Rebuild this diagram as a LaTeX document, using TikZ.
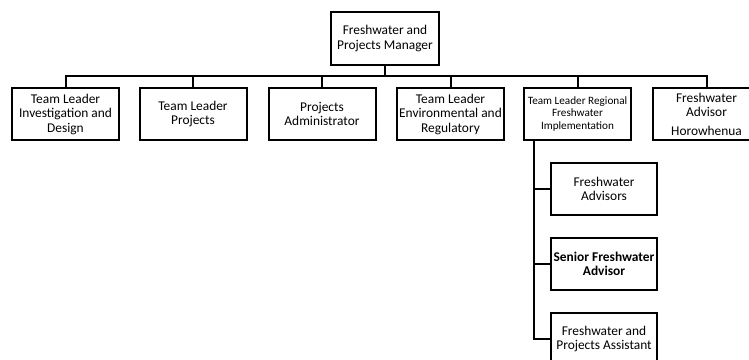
\documentclass[tikz,border=0pt]{standalone}
\usepackage{fontspec}
\setmainfont{Carlito}
\begin{document}
\begin{tikzpicture}[x=1pt,y=1pt,
  box/.style={draw, line width=2pt, minimum width=107pt, minimum height=52pt, inner sep=0pt, align=center, font=\fontsize{13.4}{14.5}\selectfont},
  smallbox/.style={box, font=\fontsize{11.2}{12.5}\selectfont},
  conn/.style={line width=2pt}]
\useasboundingbox (0,0) rectangle (749,-359);
\clip (0,0) rectangle (749,-359);
\node[box, minimum width=108pt, minimum height=53pt] (top) at (385,-38.5) {Freshwater and\\Projects Manager};
\node[box] (b1) at (65.5,-114) {Team Leader\\Investigation and\\Design};
\node[box] (b2) at (193,-114) {Team Leader\\Projects};
\node[box] (b3) at (322,-114) {Projects\\Administrator};
\node[box] (b4) at (450.5,-114) {Team Leader\\Environmental and\\Regulatory};
\node[smallbox] (b5) at (577.5,-114) {Team Leader Regional\\Freshwater\\Implementation};
\node[box] (b6) at (706.5,-114) {Freshwater\\Advisor\\[4pt]Horowhenua};
\node[box, minimum width=106pt] (sa) at (604,-189) {Freshwater\\Advisors};
\node[box, minimum width=106pt, font=\fontsize{13.4}{14.5}\selectfont\bfseries] (sb) at (604,-264) {Senior Freshwater\\Advisor};
\node[box, minimum width=106pt] (sc) at (604,-339) {Freshwater and\\Projects Assistant};
\coordinate (j) at (385,-76);
\draw[conn] (top.south) -- (j);
\foreach \n in {b1,b2,b3,b4,b5,b6} \draw[conn] (\n.north) |- (j);
\coordinate (v) at (534,-140);
\foreach \n in {sa,sb,sc} \draw[conn] (v) |- (\n.west);
\end{tikzpicture}
\end{document}
